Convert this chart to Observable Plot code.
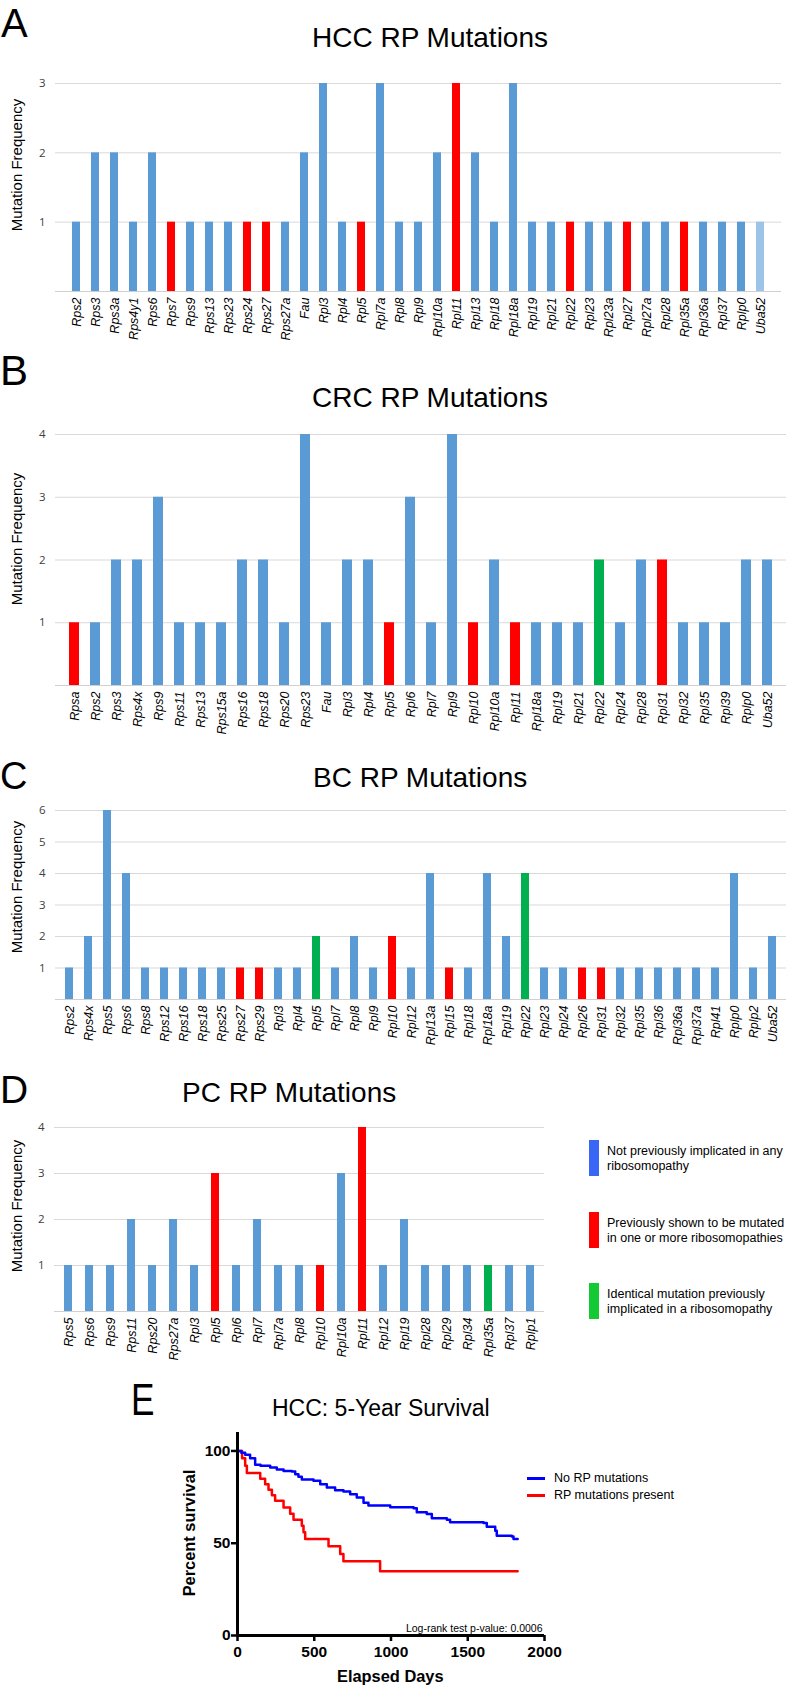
<!DOCTYPE html>
<html>
<head>
<meta charset="utf-8">
<script src="https://cdn.jsdelivr.net/npm/d3@7"></script>
<script src="https://cdn.jsdelivr.net/npm/@observablehq/plot@0.6"></script>
<style>
  body { margin: 0; background: #fff; }
  #root { position: relative; width: 786px; height: 1687px; overflow: hidden; background: #fff;
          font-family: "Liberation Sans", Arial, sans-serif; color: #000; }
  .t { position: absolute; white-space: nowrap; line-height: 1; }
  .rot { transform: translate(-50%, -50%) rotate(-90deg); }
  .sw { position: absolute; }
</style>
</head>
<body>
<div id="root"></div>
<script>
// ---------- DATA ----------
const hccGenes = ["Rps2","Rps3","Rps3a","Rps4y1","Rps6","Rps7","Rps9","Rps13","Rps23","Rps24","Rps27","Rps27a","Fau","Rpl3","Rpl4","Rpl5","Rpl7a","Rpl8","Rpl9","Rpl10a","Rpl11","Rpl13","Rpl18","Rpl18a","Rpl19","Rpl21","Rpl22","Rpl23","Rpl23a","Rpl27","Rpl27a","Rpl28","Rpl35a","Rpl36a","Rpl37","Rplp0","Uba52"];
const hccCounts = [1,2,2,1,2,1,1,1,1,1,1,1,2,3,1,1,3,1,1,2,3,2,1,3,1,1,1,1,1,1,1,1,1,1,1,1,1];
const hccClass = ["n","n","n","n","n","r","n","n","n","r","r","n","n","n","n","r","n","n","n","n","r","n","n","n","n","n","r","n","n","r","n","n","r","n","n","n","l"];

const crcGenes = ["Rpsa","Rps2","Rps3","Rps4x","Rps9","Rps11","Rps13","Rps15a","Rps16","Rps18","Rps20","Rps23","Fau","Rpl3","Rpl4","Rpl5","Rpl6","Rpl7","Rpl9","Rpl10","Rpl10a","Rpl11","Rpl18a","Rpl19","Rpl21","Rpl22","Rpl24","Rpl28","Rpl31","Rpl32","Rpl35","Rpl39","Rplp0","Uba52"];
const crcCounts = [1,1,2,2,3,1,1,1,2,2,1,4,1,2,2,1,3,1,4,1,2,1,1,1,1,2,1,2,2,1,1,1,2,2];
const crcClass = ["r","n","n","n","n","n","n","n","n","n","n","n","n","n","n","r","n","n","n","r","n","r","n","n","n","g","n","n","r","n","n","n","n","n"];

const bcGenes = ["Rps2","Rps4x","Rps5","Rps6","Rps8","Rps12","Rps16","Rps18","Rps25","Rps27","Rps29","Rpl3","Rpl4","Rpl5","Rpl7","Rpl8","Rpl9","Rpl10","Rpl12","Rpl13a","Rpl15","Rpl18","Rpl18a","Rpl19","Rpl22","Rpl23","Rpl24","Rpl26","Rpl31","Rpl32","Rpl35","Rpl36","Rpl36a","Rpl37a","Rpl41","Rplp0","Rplp2","Uba52"];
const bcCounts = [1,2,6,4,1,1,1,1,1,1,1,1,1,2,1,2,1,2,1,4,1,1,4,2,4,1,1,1,1,1,1,1,1,1,1,4,1,2];
const bcClass = ["n","n","n","n","n","n","n","n","n","r","r","n","n","g","n","n","n","r","n","n","r","n","n","n","g","n","n","r","r","n","n","n","n","n","n","n","n","n"];

const pcGenes = ["Rps5","Rps6","Rps9","Rps11","Rps20","Rps27a","Rpl3","Rpl5","Rpl6","Rpl7","Rpl7a","Rpl8","Rpl10","Rpl10a","Rpl11","Rpl12","Rpl19","Rpl28","Rpl29","Rpl34","Rpl35a","Rpl37","Rplp1"];
const pcCounts = [1,1,1,2,1,2,1,3,1,2,1,1,1,3,4,1,2,1,1,1,1,1,1];
const pcClass = ["n","n","n","n","n","n","n","r","n","n","n","n","r","n","r","n","n","n","n","n","g","n","n"];

const classKeys = ["n","r","g","l"];
const classColors = ["#5b9bd5","#ff0000","#00b050","#9dc3e6"];

const legendLabels = [["Not previously implicated in any","ribosomopathy"],
                      ["Previously shown to be mutated","in one or more ribosomopathies"],
                      ["Identical mutation previously","implicated in a ribosomopathy"]];
const legendColors = ["#3a66f5","#ff0000","#13c934"];

// Kaplan-Meier (step) curves for HCC
const noRpDays = [0,25,50,82,115,150,213,256,300,354,376,397,419,495,539,582,636,690,734,777,821,853,995,1147,1168,1233,1266,1364,1385,1603,1624,1679,1689,1787,1798,1825];
const noRpPct  = [100,99,98,96,92.5,92,91,90,89.2,88.8,87.4,86,84.5,83.8,82,80.2,78.7,78,76.6,74.8,72,70.5,69.5,69,66.8,65.8,63.6,62.7,61.3,60.9,58.9,56.8,54,53.7,52.3,52.3];
const rpDays = [0,30,50,61,148,180,202,224,245,300,343,365,419,430,441,593,669,690,929,1825];
const rpPct  = [100,96,92,88,85,82,79,76,73,69.4,66,62.7,59.5,55.9,52.3,48.3,44.1,40.2,34.8,34.8];
const survivalTicksX = [0,500,1000,1500,2000];
const survivalTicksY = [0,50,100];
const survivalLegend = ["No RP mutations","RP mutations present"];
const survivalColors = ["#0000ff","#ff0000"];
const pvalueText = "Log-rank test p-value: 0.0006";

// ---------- LAYOUT HELPERS ----------
const root = document.getElementById("root");
const plain = d => String(d);

function place(node, top) {
  node.style.position = "absolute";
  node.style.left = "0px";
  node.style.top = top + "px";
  root.appendChild(node);
}
// place text by its baseline; lh = line-height in em
function textAt(str, x, baseline, size, extra = "", lh = 1) {
  const d = document.createElement("div");
  d.className = "t";
  d.textContent = str;
  const off = (lh / 2 + 0.3465) * size;
  d.style.cssText += `left:${x}px;top:${baseline - off}px;font-size:${size}px;line-height:${lh};${extra}`;
  root.appendChild(d);
  return d;
}
function rotLabel(str, cx, cy, size, extra = "") {
  const d = document.createElement("div");
  d.className = "t rot";
  d.textContent = str;
  d.style.cssText += `left:${cx}px;top:${cy}px;font-size:${size}px;${extra}`;
  root.appendChild(d);
}

function barPanel(genes, counts, classes, o) {
  const data = genes.map((g, i) => ({gene: g, count: counts[i], cls: classes[i]}));
  const p = o.padding;
  const ticks = d3.range(1, o.ymax + 1);
  const chart = Plot.plot({
    width: o.width, height: o.height,
    marginLeft: o.marginLeft, marginRight: o.marginRight,
    marginTop: o.marginTop, marginBottom: o.marginBottom,
    style: {fontFamily: "Liberation Sans, Arial, sans-serif", background: "transparent", overflow: "visible"},
    x: {type: "band", domain: genes, paddingInner: p, paddingOuter: p / 2, align: 0.5, label: null},
    y: {domain: [0, o.ymax], label: null},
    color: {domain: classKeys, range: classColors},
    marks: [
      Plot.gridY({ticks, stroke: "#d9d9d9", strokeOpacity: 1}),
      Plot.ruleY([0], {stroke: "#d0d0d0"}),
      Plot.barY(data, {x: "gene", y: "count", fill: "cls"}),
      Plot.axisY({ticks, tickFormat: plain, tickSize: 0, tickPadding: 10, label: null,
                  fontFamily: "Open Sans", fontSize: 11.5, color: "#404040"}),
      Plot.axisX({tickSize: 0, tickPadding: 6, tickRotate: -90, label: null,
                  fontFamily: "Liberation Sans", fontStyle: "italic", fontSize: 12.5, color: "#000"})
    ]
  });
  place(chart, o.top);
}

// ---------- PANELS A-D ----------
barPanel(hccGenes, hccCounts, hccClass, {top: 0, width: 786, height: 340, marginLeft: 55, marginRight: 5, marginTop: 83, marginBottom: 49, ymax: 3, padding: 0.6});
barPanel(crcGenes, crcCounts, crcClass, {top: 340, width: 786, height: 392, marginLeft: 55, marginRight: 0, marginTop: 94, marginBottom: 47, ymax: 4, padding: 0.53});
barPanel(bcGenes, bcCounts, bcClass, {top: 732, width: 786, height: 313, marginLeft: 55, marginRight: 0, marginTop: 78, marginBottom: 46, ymax: 6, padding: 0.58});
barPanel(pcGenes, pcCounts, pcClass, {top: 1045, width: 544, height: 315, marginLeft: 54, marginRight: 0, marginTop: 82, marginBottom: 49, ymax: 4, padding: 0.64});

// ---------- PANEL E ----------
const noRp = noRpDays.map((d, i) => ({day: d, pct: noRpPct[i]}));
const rp = rpDays.map((d, i) => ({day: d, pct: rpPct[i]}));
const surv = Plot.plot({
  width: 786, height: 327,
  marginLeft: 237, marginRight: 242, marginTop: 72, marginBottom: 52,
  style: {fontFamily: "Liberation Sans, Arial, sans-serif", background: "transparent", overflow: "visible"},
  x: {domain: [0, 2000], label: null},
  y: {domain: [0, 110], label: null},
  marks: [
    Plot.axisX({ticks: survivalTicksX, tickFormat: plain, tickSize: 6, tickPadding: 4, strokeWidth: 2.5, label: null,
                fontWeight: "bold", fontSize: 15.5, color: "#000"}),
    Plot.axisY({ticks: survivalTicksY, tickFormat: plain, tickSize: 6, tickPadding: 1, strokeWidth: 2.5, label: null,
                fontWeight: "bold", fontSize: 15.5, color: "#000"}),
    Plot.line(rp, {x: "day", y: "pct", curve: "step-after", stroke: survivalColors[1], strokeWidth: 2.5}),
    Plot.line(noRp, {x: "day", y: "pct", curve: "step-after", stroke: survivalColors[0], strokeWidth: 2.5}),
    Plot.ruleX([0], {stroke: "#000", strokeWidth: 3}),
    Plot.ruleY([0], {stroke: "#000", strokeWidth: 3}),
    Plot.text([pvalueText], {frameAnchor: "bottom-right", dx: -2, dy: -4, fontSize: 10.5, fill: "#000"})
  ]
});
place(surv, 1360);

// ---------- TEXT OVERLAYS ----------
textAt("A", 1, 37, 40, "", 0.8);
textAt("B", 0, 385, 42, "", 0.75);
textAt("C", 0, 789, 38, "", 0.75);
textAt("D", 0, 1103, 39, "", 0.75);
textAt("E", 131, 1415, 44, "transform:scaleX(0.8);transform-origin:left;", 0.75);

textAt("HCC RP Mutations", 312, 48, 28);
textAt("CRC RP Mutations", 312, 408, 28);
textAt("BC RP Mutations", 313, 788, 28);
textAt("PC RP Mutations", 182, 1103, 28);
textAt("HCC: 5-Year Survival", 272, 1416, 23);

rotLabel("Mutation Frequency", 16, 165, 15);
rotLabel("Mutation Frequency", 16, 539, 15);
rotLabel("Mutation Frequency", 16, 887, 15);
rotLabel("Mutation Frequency", 16, 1206, 15);
rotLabel("Percent survival", 189, 1533, 16.4, "font-weight:bold;");
textAt("Elapsed Days", 337, 1682, 16.4, "font-weight:bold;");

// category legend
const legTops = [1140, 1212, 1283];
legendLabels.forEach((lines, i) => {
  const s = document.createElement("div");
  s.className = "sw";
  s.style.cssText = `left:589px;top:${legTops[i]}px;width:10px;height:36px;background:${legendColors[i]};`;
  root.appendChild(s);
  textAt(lines[0], 607, legTops[i] + 16, 12.5);
  textAt(lines[1], 607, legTops[i] + 31, 12.5);
});

// survival legend
[1478, 1495].forEach((y, i) => {
  const s = document.createElement("div");
  s.className = "sw";
  s.style.cssText = `left:527px;top:${y - 1}px;width:18px;height:2.5px;background:${survivalColors[i]};`;
  root.appendChild(s);
  textAt(survivalLegend[i], 554, y + 4.5, 12.5);
});
</script>
</body>
</html>
